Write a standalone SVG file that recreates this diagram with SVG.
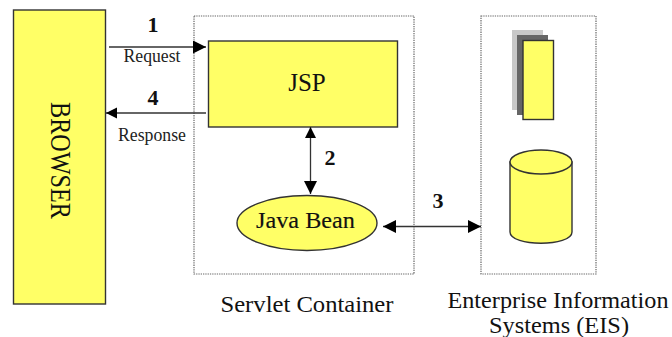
<svg xmlns="http://www.w3.org/2000/svg" width="672" height="337" viewBox="0 0 672 337">
<defs>
<marker id="ah" markerUnits="userSpaceOnUse" markerWidth="14" markerHeight="14" refX="13" refY="6.500" orient="auto-start-reverse"><path d="M0 0L13 6.500L0 13Z" fill="#000"/></marker>
<marker id="as" markerUnits="userSpaceOnUse" markerWidth="12" markerHeight="12" refX="11" refY="5.500" orient="auto-start-reverse"><path d="M0 0L11 5.500L0 11Z" fill="#000"/></marker>
</defs>
<style>
text{font-family:"Liberation Serif",serif;fill:#111}
.y{fill:#ffff66;stroke:#333;stroke-width:1.4}
.c{fill:none;stroke:#333;stroke-width:1.3}
.d{fill:none;stroke:#666;stroke-width:1.2;stroke-dasharray:1.3 1}
.n{font-weight:bold;font-size:22px;text-anchor:middle}
.s{font-size:18px;text-anchor:middle;fill:#222}
.l{font-size:24px;text-anchor:middle}
</style>
<rect width="672" height="337" fill="#fff"/>
<g id="servlet-container"><rect class="d" x="194" y="16" width="220" height="258"/><text class="l" x="307" y="312" textLength="173" lengthAdjust="spacingAndGlyphs">Servlet Container</text></g>
<g id="eis"><rect class="d" x="481" y="16" width="115" height="258"/>
<text class="l" x="558" y="308" textLength="221" lengthAdjust="spacingAndGlyphs">Enterprise Information</text><text class="l" x="559" y="333" textLength="140" lengthAdjust="spacingAndGlyphs">Systems (EIS)</text>
<rect x="512" y="30" width="31" height="80" fill="#c8c8c8"/><rect x="517" y="35" width="31" height="80" fill="#666"/><rect class="y" x="523" y="40.500" width="30.500" height="79"/>
<path class="y" d="M510 162V232C510 247 572 247 572 232V162Z"/><ellipse class="y" cx="541" cy="162" rx="31" ry="12"/></g>
<g id="browser"><rect class="y" x="13.500" y="10" width="92" height="294"/><text transform="translate(51 160.500) rotate(90)" font-size="29" text-anchor="middle" textLength="117" lengthAdjust="spacingAndGlyphs">BROWSER</text></g>
<g id="jsp"><rect class="y" x="208.500" y="41" width="189" height="86"/><text x="307" y="91" font-size="25" text-anchor="middle">JSP</text></g>
<g id="java-bean"><ellipse class="y" cx="307" cy="223" rx="70" ry="27.500"/><text x="305.500" y="228" font-size="23" text-anchor="middle" stroke="#111" stroke-width=".15" textLength="99" lengthAdjust="spacingAndGlyphs">Java Bean</text></g>
<g id="connectors">
<line class="c" x1="109" y1="47" x2="206" y2="47" marker-end="url(#ah)"/>
<line class="c" x1="206" y1="113" x2="106" y2="113" marker-end="url(#as)"/>
<line class="c" x1="310.500" y1="127" x2="310.500" y2="194" marker-start="url(#as)" marker-end="url(#ah)"/>
<line class="c" x1="383" y1="226.500" x2="481" y2="226.500" marker-start="url(#ah)" marker-end="url(#ah)"/>
</g>
<text class="n" x="153" y="32">1</text><text class="n" x="153" y="105">4</text><text class="n" x="330" y="165">2</text><text class="n" x="438" y="208">3</text>
<text class="s" x="152" y="62" textLength="57" lengthAdjust="spacingAndGlyphs">Request</text><text class="s" x="152" y="141" textLength="68" lengthAdjust="spacingAndGlyphs">Response</text>
</svg>
